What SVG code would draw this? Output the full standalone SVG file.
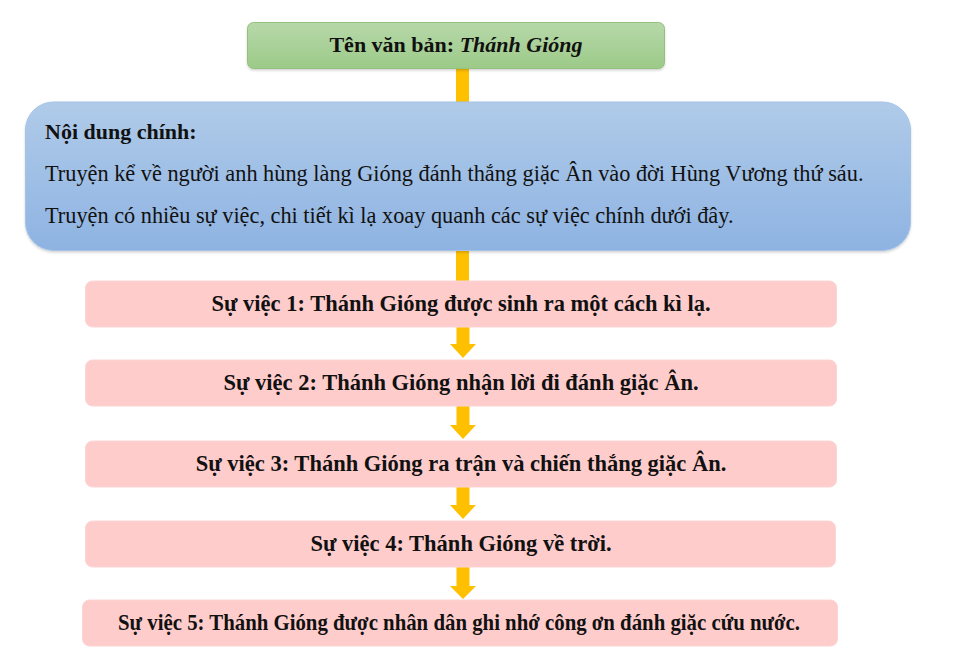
<svg xmlns="http://www.w3.org/2000/svg" width="961" height="662" viewBox="0 0 961 662">
<style>
.t{font-family:"Liberation Serif","Times New Roman",serif;fill:#111}
.b{font-weight:bold}
.ev{fill:#ffcccc;stroke:#fbd4d4;stroke-width:1}
.ev-t{font-family:"Liberation Serif","Times New Roman",serif;font-weight:bold;font-size:22.5px;fill:#111;text-anchor:middle}
.arr{fill:#ffc000}
</style>
<defs>
<linearGradient id="gG" x1="0" y1="0" x2="0" y2="1"><stop offset="0" stop-color="#b7d8aa"/><stop offset="1" stop-color="#9cca88"/></linearGradient>
<linearGradient id="gB" x1="0" y1="0" x2="0" y2="1"><stop offset="0" stop-color="#b0cbe9"/><stop offset="1" stop-color="#8eb3e2"/></linearGradient>
<filter id="sh" x="-5%" y="-10%" width="110%" height="130%"><feDropShadow dx="0" dy="1.5" stdDeviation="1.2" flood-color="#000" flood-opacity="0.18"/></filter>
</defs>
<rect width="961" height="662" fill="#fff"/>
<g id="connectors">
<rect class="arr" x="456" y="68" width="13" height="34"/>
<rect class="arr" x="456" y="250" width="13" height="31"/>
<path class="arr" d="M456.5 327H469.5V344H476L463 358L450 344H456.5Z"/>
<path class="arr" d="M456.5 406H469.5V425H476L463 439L450 425H456.5Z"/>
<path class="arr" d="M456.5 487H469.5V505H476L463 519L450 505H456.5Z"/>
<path class="arr" d="M456.5 567H469.5V586H476L463 599L450 586H456.5Z"/>
</g>
<g id="title">
<rect x="247.5" y="22.5" width="417" height="46" rx="6" fill="url(#gG)" stroke="#93c27f" filter="url(#sh)"/>
<text class="t b" x="456" y="52" font-size="22" text-anchor="middle">Tên văn bản: <tspan font-style="italic">Thánh Gióng</tspan></text>
</g>
<g id="content">
<rect x="25.5" y="102" width="885" height="148.5" rx="28" fill="url(#gB)" stroke="#a5c3e8" filter="url(#sh)"/>
<text class="t b" x="45" y="139" font-size="22">Nội dung chính:</text>
<text class="t" x="45" y="181" font-size="22.3">Truyện kể về người anh hùng làng Gióng đánh thắng giặc Ân vào đời Hùng Vương thứ sáu.</text>
<text class="t" x="45" y="223" font-size="22.3">Truyện có nhiều sự việc, chi tiết kì lạ xoay quanh các sự việc chính dưới đây.</text>
</g>
<g id="event1">
<rect class="ev" x="85.5" y="281" width="751" height="46" rx="7"/>
<text class="ev-t" x="461" y="311">Sự việc 1: Thánh Gióng được sinh ra một cách kì lạ.</text>
</g>
<g id="event2">
<rect class="ev" x="85.5" y="360" width="751" height="46" rx="7"/>
<text class="ev-t" x="461" y="390">Sự việc 2: Thánh Gióng nhận lời đi đánh giặc Ân.</text>
</g>
<g id="event3">
<rect class="ev" x="85.5" y="441" width="751" height="46" rx="7"/>
<text class="ev-t" x="461" y="471">Sự việc 3: Thánh Gióng ra trận và chiến thắng giặc Ân.</text>
</g>
<g id="event4">
<rect class="ev" x="85.5" y="521" width="750" height="46" rx="7"/>
<text class="ev-t" x="461" y="551">Sự việc 4: Thánh Gióng về trời.</text>
</g>
<g id="event5">
<rect class="ev" x="82.5" y="600" width="755" height="46" rx="7"/>
<text class="ev-t" x="459" y="630" textLength="682" lengthAdjust="spacingAndGlyphs">Sự việc 5: Thánh Gióng được nhân dân ghi nhớ công ơn đánh giặc cứu nước.</text>
</g>
</svg>
